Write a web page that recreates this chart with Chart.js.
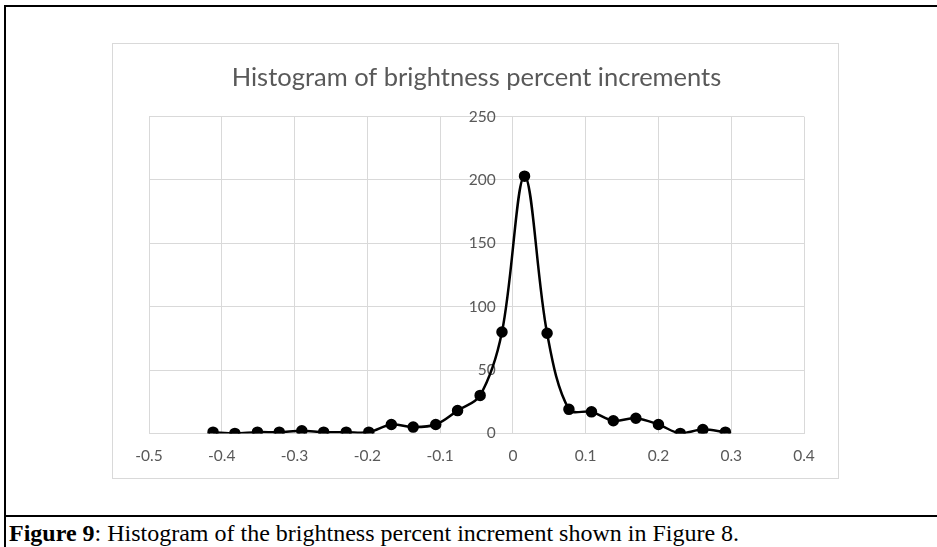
<!DOCTYPE html>
<html lang="en">
<head>
    <meta charset="UTF-8">
    <title>Histogram of brightness percent increments</title>
    <script src="https://cdn.jsdelivr.net/npm/chart.js"></script>
    <style>
        body {
            margin: 0;
            background: #ffffff;
            width: 937px;
            height: 547px;
            position: relative;
            overflow: hidden;
        }

        /* table-like frame around figure and caption */
        .frame-top { position: absolute; left: 4px; top: 5px; width: 940px; height: 2px; background: #000; }
        .frame-left { position: absolute; left: 4px; top: 5px; width: 2px; height: 560px; background: #000; }
        .frame-mid { position: absolute; left: 4px; top: 515px; width: 940px; height: 2px; background: #000; }

        /* light border of the Excel chart object */
        .chart-border {
            position: absolute;
            left: 112px;
            top: 43px;
            width: 725px;
            height: 434px;
            border: 1px solid #d9d9d9;
        }

        .chart-wrap {
            position: absolute;
            left: 113px;
            top: 44px;
            width: 724px;
            height: 434px;
        }

        .caption {
            position: absolute;
            left: 9px;
            top: 520px;
            font-family: "Liberation Serif", "Times New Roman", serif;
            font-size: 24px;
            color: #000;
            white-space: nowrap;
        }
    </style>
</head>
<body>
    <div class="frame-top"></div>
    <div class="frame-left"></div>
    <div class="frame-mid"></div>

    <div class="chart-border"></div>
    <div class="chart-wrap">
        <canvas id="histChart"></canvas>
    </div>

    <div class="caption"><b>Figure 9</b>: Histogram of the brightness percent increment shown in Figure 8.</div>

    <script>
        // bin centres (brightness percent increment) and counts
        var binX = [-0.412, -0.382, -0.351, -0.321, -0.290, -0.260, -0.229, -0.198,
                    -0.167, -0.137, -0.106, -0.076, -0.045, -0.015, 0.016, 0.047,
                    0.077, 0.108, 0.138, 0.169, 0.200, 0.230, 0.261, 0.292];
        var counts = [1, 0, 1, 1, 2, 1, 1, 1,
                      7, 5, 7, 18, 30, 80, 203, 79,
                      19, 17, 10, 12, 7, 0, 3, 1];

        var xMin = -0.5, xMax = 0.4, xStep = 0.1;
        var yMin = 0, yMax = 250, yStep = 50;

        var points = [];
        for (var i = 0; i < binX.length; i++) {
            points.push({ x: binX[i], y: counts[i] });
        }

        var grey = "#d9d9d9";
        var textGrey = "#595959";

        var ctx = document.getElementById("histChart").getContext("2d");
        var chart = new Chart(ctx, {
            type: "line",
            data: {
                datasets: [{
                    label: "Count",
                    data: points,
                    borderColor: "#000",
                    backgroundColor: "#000",
                    borderWidth: 2.5,
                    pointRadius: 4.5,
                    pointBackgroundColor: "#000",
                    pointBorderColor: "#000",
                    tension: 0.35,
                    fill: false
                }]
            },
            options: {
                responsive: true,
                maintainAspectRatio: false,
                animation: false,
                layout: {
                    padding: { left: 36, right: 33, top: 18, bottom: 0 }
                },
                plugins: {
                    legend: { display: false },
                    tooltip: { enabled: false },
                    title: {
                        display: true,
                        text: "Histogram of brightness percent increments",
                        color: textGrey,
                        font: { family: "Lato", size: 25.5, weight: "normal" },
                        padding: { top: 0, bottom: 24 }
                    }
                },
                scales: {
                    x: {
                        type: "linear",
                        min: xMin,
                        max: xMax,
                        grid: { color: grey, drawTicks: false },
                        border: { color: grey },
                        ticks: {
                            stepSize: xStep,
                            color: textGrey,
                            padding: 13,
                            font: { family: "Lato", size: 15.5 }
                        }
                    },
                    y: {
                        // y labels sit just left of the x = 0 gridline, as in Excel
                        position: { x: -0.0235 },
                        min: yMin,
                        max: yMax,
                        grid: { color: grey, drawTicks: false },
                        border: { display: false },
                        ticks: {
                            stepSize: yStep,
                            color: textGrey,
                            font: { family: "Lato", size: 15.5 }
                        }
                    }
                }
            }
        });
    </script>
</body>
</html>
